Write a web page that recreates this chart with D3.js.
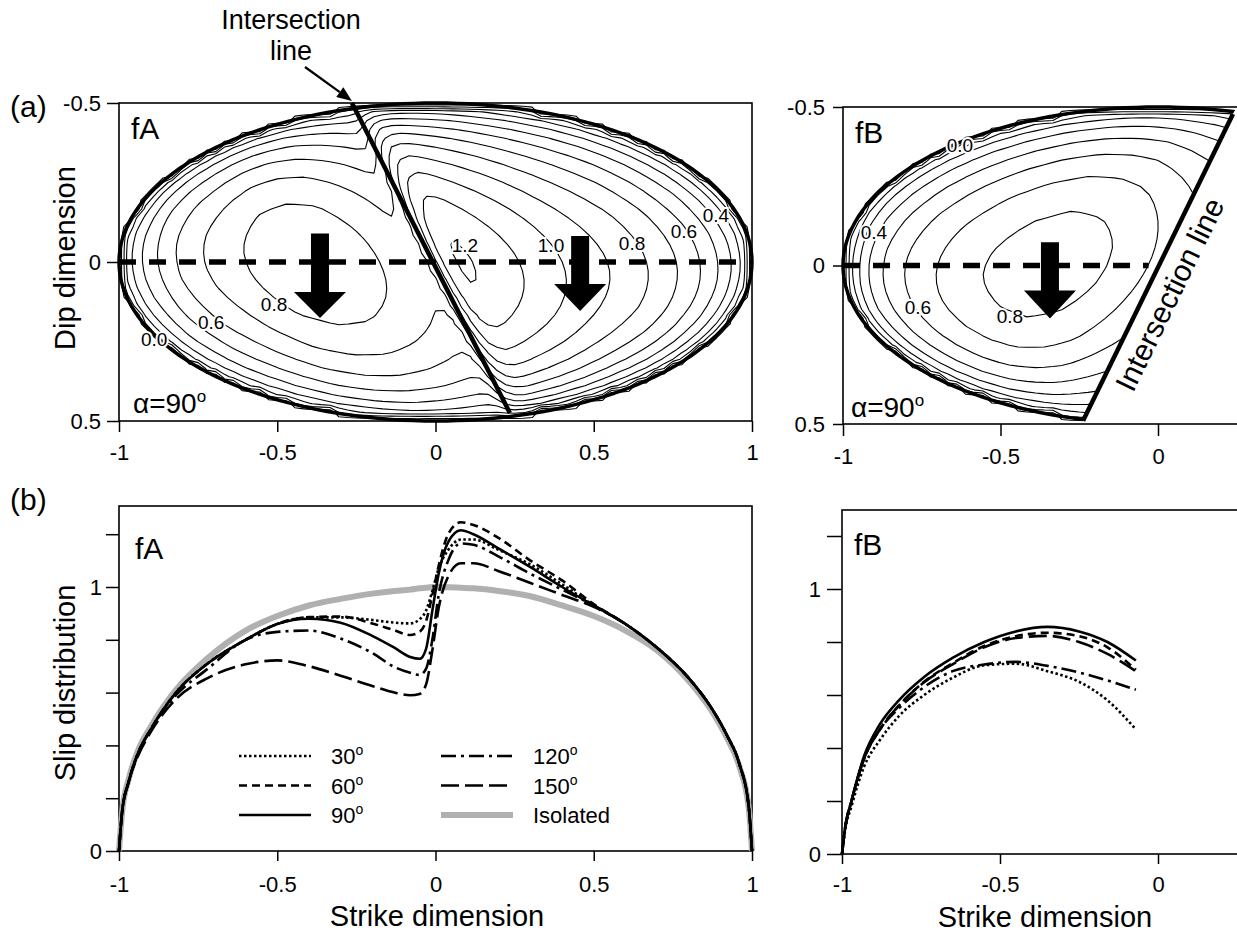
<!DOCTYPE html>
<html>
<head>
<meta charset="utf-8">
<script src="https://cdn.jsdelivr.net/npm/d3@7"></script>
<style>
  body { margin: 0; background: #fff; }
  svg { display: block; font-family: "Liberation Sans", Arial, Helvetica, sans-serif; }
</style>
</head>
<body>
<svg id="chart" width="1237" height="934"></svg>
<script>
// ---- values ----
// panel (b) fA : slip along strike (dip = 0) for each intersection angle
const strikeA = [-1, -0.99, -0.97, -0.94, -0.9, -0.82, -0.72, -0.6, -0.5, -0.4, -0.3, -0.2, -0.13, -0.08, -0.05, -0.03, -0.01, 0.01, 0.04, 0.08, 0.12, 0.2, 0.3, 0.4, 0.5, 0.6, 0.7, 0.8, 0.87, 0.92, 0.96, 0.99, 1];
const slipA30 = [0, 0.15, 0.26, 0.37, 0.46, 0.6, 0.71, 0.8, 0.86, 0.885, 0.885, 0.875, 0.865, 0.862, 0.878, 0.91, 0.985, 1.07, 1.14, 1.18, 1.18, 1.14, 1.085, 1.01, 0.93, 0.86, 0.77, 0.655, 0.545, 0.44, 0.33, 0.165, 0];
const slipA60 = [0, 0.15, 0.26, 0.37, 0.46, 0.6, 0.71, 0.8, 0.86, 0.886, 0.888, 0.862, 0.836, 0.818, 0.83, 0.87, 0.97, 1.08, 1.2, 1.245, 1.235, 1.185, 1.1, 1.025, 0.935, 0.86, 0.77, 0.655, 0.545, 0.44, 0.33, 0.165, 0];
const slipA90 = [0, 0.15, 0.26, 0.37, 0.46, 0.6, 0.71, 0.8, 0.86, 0.88, 0.865, 0.815, 0.77, 0.735, 0.728, 0.765, 0.91, 1.05, 1.17, 1.215, 1.2, 1.145, 1.075, 1.0, 0.93, 0.86, 0.77, 0.655, 0.545, 0.44, 0.33, 0.165, 0];
const slipA120 = [0, 0.15, 0.26, 0.37, 0.46, 0.59, 0.69, 0.8, 0.83, 0.835, 0.805, 0.75, 0.697, 0.675, 0.667, 0.69, 0.8, 0.97, 1.1, 1.165, 1.16, 1.115, 1.05, 0.99, 0.93, 0.86, 0.77, 0.655, 0.545, 0.44, 0.33, 0.165, 0];
const slipA150 = [0, 0.15, 0.26, 0.36, 0.45, 0.575, 0.655, 0.707, 0.722, 0.7, 0.664, 0.625, 0.6, 0.59, 0.595, 0.63, 0.76, 0.92, 1.04, 1.09, 1.09, 1.06, 1.015, 0.97, 0.925, 0.86, 0.77, 0.655, 0.545, 0.44, 0.33, 0.165, 0];
const slipIsolated = [0, 0.15, 0.27, 0.38, 0.47, 0.61, 0.73, 0.835, 0.89, 0.93, 0.955, 0.975, 0.985, 0.99, 0.995, 0.997, 1.0, 1.0, 0.999, 0.997, 0.995, 0.985, 0.965, 0.93, 0.89, 0.835, 0.76, 0.645, 0.535, 0.43, 0.32, 0.16, 0];

// panel (b) fB
const strikeB = [-1, -0.99, -0.97, -0.93, -0.88, -0.82, -0.74, -0.65, -0.55, -0.45, -0.35, -0.25, -0.16, -0.07];
const slipB30 = [0, 0.09, 0.18, 0.33, 0.43, 0.52, 0.6, 0.665, 0.712, 0.718, 0.69, 0.65, 0.58, 0.47];
const slipB60 = [0, 0.1, 0.2, 0.36, 0.47, 0.56, 0.65, 0.72, 0.785, 0.822, 0.835, 0.822, 0.78, 0.695];
const slipB90 = [0, 0.1, 0.2, 0.37, 0.49, 0.58, 0.668, 0.74, 0.8, 0.84, 0.857, 0.84, 0.8, 0.73];
const slipB120 = [0, 0.1, 0.2, 0.36, 0.47, 0.55, 0.63, 0.69, 0.715, 0.725, 0.71, 0.685, 0.655, 0.62];
const slipB150 = [0, 0.1, 0.2, 0.36, 0.47, 0.56, 0.648, 0.716, 0.78, 0.815, 0.823, 0.8, 0.755, 0.69];

const angles = ['30', '60', '90', '120', '150'];
const contourLevels = [0, 0.1, 0.2, 0.3, 0.4, 0.5, 0.6, 0.7, 0.8, 0.9, 1.0, 1.1, 1.2];

// intersection line end points (strike, dip) on each fault
const intersectA = [[-0.264, -0.5], [0.235, 0.475]];
const intersectB = [[0.238, -0.478], [-0.238, 0.49]];

// ---- layout ----
const svg = d3.select('#chart');
const FONT = '"Liberation Sans", Arial, Helvetica, sans-serif';

const xA = d3.scaleLinear().domain([-1, 1]).range([119, 752]);
const yA = d3.scaleLinear().domain([-0.5, 0.5]).range([103, 421]);
const xB = d3.scaleLinear().domain([-1, 0]).range([843, 1158]);
const yB = d3.scaleLinear().domain([-0.5, 0.5]).range([107, 424]);
const ySA = d3.scaleLinear().domain([0, 1]).range([851, 587]);
const xSB = d3.scaleLinear().domain([-1, 0]).range([842, 1158]);
const ySB = d3.scaleLinear().domain([0, 1]).range([854, 589]);

const fmt = d => d === 0 ? '0' : String(d);

const styles = {
  '30': { dash: '2.5,2.5', width: 2.6 },
  '60': { dash: '8,5', width: 2.6 },
  '90': { dash: null, width: 2.6 },
  '120': { dash: '15,5,3,5', width: 2.6 },
  '150': { dash: '18,6', width: 2.6 }
};

function styleAxis(g, fs) {
  g.attr('font-size', fs).attr('font-family', FONT);
  g.select('.domain').remove();
  g.selectAll('.tick line').attr('stroke', '#000').attr('stroke-width', 1.5);
  g.selectAll('.tick text').attr('fill', '#000');
}

function frame(x0, y0, x1, y1) {
  svg.append('rect')
    .attr('x', x0).attr('y', y0)
    .attr('width', x1 - x0).attr('height', y1 - y0)
    .attr('fill', 'none').attr('stroke', '#000').attr('stroke-width', 1.6);
}

// ---- contour field, built from the alpha = 90 slip profiles ----
const gridStep = 1 / 36;

function contourLayer(sx, sy, xMin, xMax, field, clip) {
  const nx = Math.round((xMax - xMin) / gridStep) + 1;
  const ny = 37;
  const values = new Array(nx * ny);
  for (let j = 0; j < ny; j++) {
    for (let i = 0; i < nx; i++) {
      values[j * nx + i] = field(xMin + i * gridStep, -0.5 + j * gridStep);
    }
  }
  const contours = d3.contours().size([nx, ny]).thresholds(contourLevels)(values);
  const proj = d3.geoTransform({
    point: function (px, py) {
      this.stream.point(sx(xMin + (px - 0.5) * gridStep), sy(-0.5 + (py - 0.5) * gridStep));
    }
  });
  const g = svg.append('g');
  if (clip) g.attr('clip-path', clip);
  g.selectAll('path')
    .data(contours)
    .join('path')
    .attr('d', d3.geoPath(proj))
    .attr('fill', 'none')
    .attr('stroke', '#000')
    .attr('stroke-width', 1.1)
    .attr('stroke-linejoin', 'round');
}

const profileA = d3.scaleLinear().domain(strikeA).range(slipA90);
const profileB = d3.scaleLinear().domain(strikeB).range(slipB90);
const slopeA = (intersectA[1][0] - intersectA[0][0]) / (intersectA[1][1] - intersectA[0][1]);
const slopeB = (intersectB[1][0] - intersectB[0][0]) / (intersectB[1][1] - intersectB[0][1]);

function fieldA(x, y) {
  if (x * x + 4 * y * y >= 1) return -0.1;
  const b = 0.5 * Math.sqrt(1 - x * x);
  const xp = x - slopeA * y * (1 - x * x);   // follow the slanted intersection
  return profileA(xp) * Math.sqrt(1 - (y / b) * (y / b));
}
function fieldB(x, y) {
  if (x * x + 4 * y * y >= 1) return -0.1;
  const b = 0.5 * Math.sqrt(1 - x * x);
  const xp = x - slopeB * y * (1 - x * x);
  return profileB(xp) * Math.sqrt(1 - (y / b) * (y / b));
}

// clip for fB: the side of the intersection line that holds the fault
const xintB = y => intersectB[0][0] + slopeB * (y - intersectB[0][1]);
svg.append('defs').append('clipPath').attr('id', 'clipB')
  .append('polygon')
  .attr('points', [[-1.1, -0.6], [xintB(-0.6), -0.6], [xintB(0.6), 0.6], [-1.1, 0.6]]
    .map(p => [xB(p[0]), yB(p[1])].join(',')).join(' '));

const ellipsePts = d3.range(0, 361, 2).map(a => [Math.cos(a * Math.PI / 180), 0.5 * Math.sin(a * Math.PI / 180)]);

// ================= panel (a) fA =================
frame(xA(-1), yA(-0.5), xA(1), yA(0.5));
contourLayer(xA, yA, -1, 1, fieldA, null);

svg.append('path')
  .attr('d', d3.line().x(d => xA(d[0])).y(d => yA(d[1]))(ellipsePts))
  .attr('fill', 'none').attr('stroke', '#000').attr('stroke-width', 3.5);

svg.append('line')
  .attr('x1', xA(intersectA[0][0])).attr('y1', yA(intersectA[0][1]))
  .attr('x2', xA(intersectA[1][0])).attr('y2', yA(intersectA[1][1]))
  .attr('stroke', '#000').attr('stroke-width', 4.5);

svg.append('line')
  .attr('x1', xA(-1)).attr('x2', xA(1)).attr('y1', yA(0)).attr('y2', yA(0))
  .attr('stroke', '#000').attr('stroke-width', 5.5).attr('stroke-dasharray', '17,13');

// ================= panel (a) fB =================
frame(xB(-1), yB(-0.5), 1300, yB(0.5));
contourLayer(xB, yB, -1, 0.32, fieldB, 'url(#clipB)');

svg.append('path')
  .attr('d', d3.line().x(d => xB(d[0])).y(d => yB(d[1]))(ellipsePts))
  .attr('clip-path', 'url(#clipB)')
  .attr('fill', 'none').attr('stroke', '#000').attr('stroke-width', 3.5);

svg.append('line')
  .attr('x1', xB(intersectB[0][0])).attr('y1', yB(intersectB[0][1]))
  .attr('x2', xB(intersectB[1][0])).attr('y2', yB(intersectB[1][1]))
  .attr('stroke', '#000').attr('stroke-width', 4.5);

svg.append('line')
  .attr('x1', xB(-1)).attr('x2', xB(-0.03)).attr('y1', yB(0)).attr('y2', yB(0))
  .attr('stroke', '#000').attr('stroke-width', 5.5).attr('stroke-dasharray', '17,13');

// slip direction arrows
function downArrow(cx, yTop, yHead, yTip) {
  const pts = [[cx - 9, yTop], [cx + 9, yTop], [cx + 9, yHead], [cx + 26, yHead], [cx, yTip],
    [cx - 26, yHead], [cx - 9, yHead]];
  svg.append('polygon').attr('points', pts.map(p => p.join(',')).join(' ')).attr('fill', '#000');
}
downArrow(xA(-0.365), yA(-0.09), yA(0.094), yA(0.176));
downArrow(xA(0.457), yA(-0.082), yA(0.069), yA(0.154));
downArrow(xB(-0.343), yB(-0.073), yB(0.079), yB(0.167));

// contour labels
function contourLabel(sx, sy, t, x, y) {
  svg.append('text')
    .attr('x', sx(x)).attr('y', sy(y)).attr('dy', '0.36em')
    .attr('text-anchor', 'middle')
    .attr('font-size', 19)
    .attr('stroke', '#fff').attr('stroke-width', 4).attr('paint-order', 'stroke')
    .attr('fill', '#000')
    .text(t);
}
[['0.8', -0.51, 0.132], ['0.6', -0.709, 0.189], ['0.0', -0.889, 0.242], ['1.2', 0.093, -0.053],
 ['1.0', 0.365, -0.053], ['0.8', 0.621, -0.06], ['0.6', 0.785, -0.097], ['0.4', 0.886, -0.148]]
  .forEach(d => contourLabel(xA, yA, d[0], d[1], d[2]));
[['0.0', -0.629, -0.38], ['0.4', -0.902, -0.106], ['0.6', -0.762, 0.131], ['0.8', -0.47, 0.159]]
  .forEach(d => contourLabel(xB, yB, d[0], d[1], d[2]));

// panel labels inside (a)
function alphaLabel(x, y) {
  const t = svg.append('text').attr('x', x).attr('y', y).attr('font-size', 28);
  t.append('tspan').text('\u03B1=90');
  t.append('tspan').attr('font-size', 17).attr('dy', -11).text('o');
}
svg.append('text').attr('x', 131).attr('y', 139).attr('font-size', 30).text('fA');
svg.append('text').attr('x', 855).attr('y', 143).attr('font-size', 30).text('fB');
alphaLabel(133, 413);
alphaLabel(851, 417);

svg.append('text')
  .attr('transform', 'translate(1179,299) rotate(-64)')
  .attr('text-anchor', 'middle').attr('font-size', 30)
  .text('Intersection line');

// "Intersection line" call-out (two lines, one text)
{
  const t = svg.append('text').attr('text-anchor', 'middle').attr('font-size', 27);
  t.append('tspan').attr('x', 291).attr('y', 29).text('Intersection');
  t.append('tspan').attr('x', 291).attr('y', 60).text('line');

  const p0 = [305, 67], p1 = [xA(intersectA[0][0]), yA(intersectA[0][1]) - 2];
  const len = Math.hypot(p1[0] - p0[0], p1[1] - p0[1]);
  const ux = (p1[0] - p0[0]) / len, uy = (p1[1] - p0[1]) / len;
  const bx = p1[0] - 15 * ux, by = p1[1] - 15 * uy;
  svg.append('line').attr('x1', p0[0]).attr('y1', p0[1]).attr('x2', bx).attr('y2', by)
    .attr('stroke', '#000').attr('stroke-width', 2.2);
  svg.append('polygon')
    .attr('points', [[p1[0], p1[1]], [bx - 6 * uy, by + 6 * ux], [bx + 6 * uy, by - 6 * ux]].map(p => p.join(',')).join(' '))
    .attr('fill', '#000');
}

// axes (a)
svg.append('g').attr('transform', `translate(${xA(-1)},0)`)
  .call(d3.axisLeft(yA).tickValues([-0.5, 0, 0.5]).tickSize(12).tickPadding(6).tickFormat(fmt))
  .call(g => styleAxis(g, 22));
svg.append('g').attr('transform', `translate(0,${yA(0.5)})`)
  .call(d3.axisBottom(xA).tickValues([-1, -0.5, 0, 0.5, 1]).tickSize(11).tickPadding(12).tickFormat(fmt))
  .call(g => styleAxis(g, 22));
svg.append('g').attr('transform', `translate(${xB(-1)},0)`)
  .call(d3.axisLeft(yB).tickValues([-0.5, 0, 0.5]).tickSize(10).tickPadding(8).tickFormat(fmt))
  .call(g => styleAxis(g, 22));
svg.append('g').attr('transform', `translate(0,${yB(0.5)})`)
  .call(d3.axisBottom(xB).tickValues([-1, -0.5, 0]).tickSize(12).tickPadding(12).tickFormat(fmt))
  .call(g => styleAxis(g, 22));

svg.append('text').attr('x', 10).attr('y', 117).attr('font-size', 30).text('(a)');
svg.append('text').attr('transform', 'translate(75,258) rotate(-90)')
  .attr('text-anchor', 'middle').attr('font-size', 29).text('Dip dimension');

// ================= panel (b) =================
frame(xA(-1), 506, xA(1), ySA(0));
frame(xSB(-1), 510, 1300, ySB(0));

const seriesA = { '30': slipA30, '60': slipA60, '90': slipA90, '120': slipA120, '150': slipA150 };
const seriesB = { '30': slipB30, '60': slipB60, '90': slipB90, '120': slipB120, '150': slipB150 };

const lineA = d3.line().x(d => xA(d[0])).y(d => ySA(d[1])).curve(d3.curveMonotoneX);
const lineB = d3.line().x(d => xSB(d[0])).y(d => ySB(d[1])).curve(d3.curveMonotoneX);

svg.append('path')
  .attr('d', lineA(d3.zip(strikeA, slipIsolated)))
  .attr('fill', 'none').attr('stroke', '#b0b0b0').attr('stroke-width', 6);

angles.forEach(a => {
  svg.append('path')
    .attr('d', lineA(d3.zip(strikeA, seriesA[a])))
    .attr('fill', 'none').attr('stroke', '#000')
    .attr('stroke-width', styles[a].width)
    .attr('stroke-dasharray', styles[a].dash);
  svg.append('path')
    .attr('d', lineB(d3.zip(strikeB, seriesB[a])))
    .attr('fill', 'none').attr('stroke', '#000')
    .attr('stroke-width', styles[a].width)
    .attr('stroke-dasharray', styles[a].dash);
});

svg.append('text').attr('x', 135).attr('y', 559).attr('font-size', 30).text('fA');
svg.append('text').attr('x', 854).attr('y', 555).attr('font-size', 30).text('fB');

// legend
const legendItems = [
  { key: '30', col: 0, row: 0 }, { key: '60', col: 0, row: 1 }, { key: '90', col: 0, row: 2 },
  { key: '120', col: 1, row: 0 }, { key: '150', col: 1, row: 1 }, { key: 'Isolated', col: 1, row: 2 }
];
legendItems.forEach(it => {
  const x0 = it.col === 0 ? 239 : 441;
  const y = 756 + it.row * 29.5;
  const ln = svg.append('line').attr('x1', x0).attr('x2', x0 + 72).attr('y1', y).attr('y2', y);
  if (it.key === 'Isolated') {
    ln.attr('stroke', '#b0b0b0').attr('stroke-width', 6);
  } else {
    ln.attr('stroke', '#000').attr('stroke-width', styles[it.key].width)
      .attr('stroke-dasharray', styles[it.key].dash);
  }
  const t = svg.append('text').attr('x', x0 + 92).attr('y', y + 8).attr('font-size', 22);
  if (it.key === 'Isolated') {
    t.text('Isolated');
  } else {
    t.append('tspan').text(it.key);
    t.append('tspan').attr('font-size', 14).attr('dy', -9).text('o');
  }
});

// axes (b)
const yTicksB = [0, 0.2, 0.4, 0.6, 0.8, 1, 1.2];
const yFmtB = d => (d === 0 || d === 1) ? fmt(d) : '';
svg.append('g').attr('transform', `translate(${xA(-1)},0)`)
  .call(d3.axisLeft(ySA).tickValues(yTicksB).tickSize(13).tickPadding(4).tickFormat(yFmtB))
  .call(g => styleAxis(g, 22));
svg.append('g').attr('transform', `translate(0,${ySA(0)})`)
  .call(d3.axisBottom(xA).tickValues([-1, -0.5, 0, 0.5, 1]).tickSize(10).tickPadding(15).tickFormat(fmt))
  .call(g => styleAxis(g, 22));
svg.append('g').attr('transform', `translate(${xSB(-1)},0)`)
  .call(d3.axisLeft(ySB).tickValues(yTicksB).tickSize(15).tickPadding(6).tickFormat(yFmtB))
  .call(g => styleAxis(g, 22));
svg.append('g').attr('transform', `translate(0,${ySB(0)})`)
  .call(d3.axisBottom(xSB).tickValues([-1, -0.5, 0]).tickSize(10).tickPadding(12).tickFormat(fmt))
  .call(g => styleAxis(g, 22));

svg.append('text').attr('x', 10).attr('y', 510).attr('font-size', 30).text('(b)');
svg.append('text').attr('transform', 'translate(75,683) rotate(-90)')
  .attr('text-anchor', 'middle').attr('font-size', 29).text('Slip distribution');
svg.append('text').attr('x', 437).attr('y', 926).attr('text-anchor', 'middle').attr('font-size', 29).text('Strike dimension');
svg.append('text').attr('x', 1045).attr('y', 927).attr('text-anchor', 'middle').attr('font-size', 29).text('Strike dimension');
</script>
</body>
</html>
